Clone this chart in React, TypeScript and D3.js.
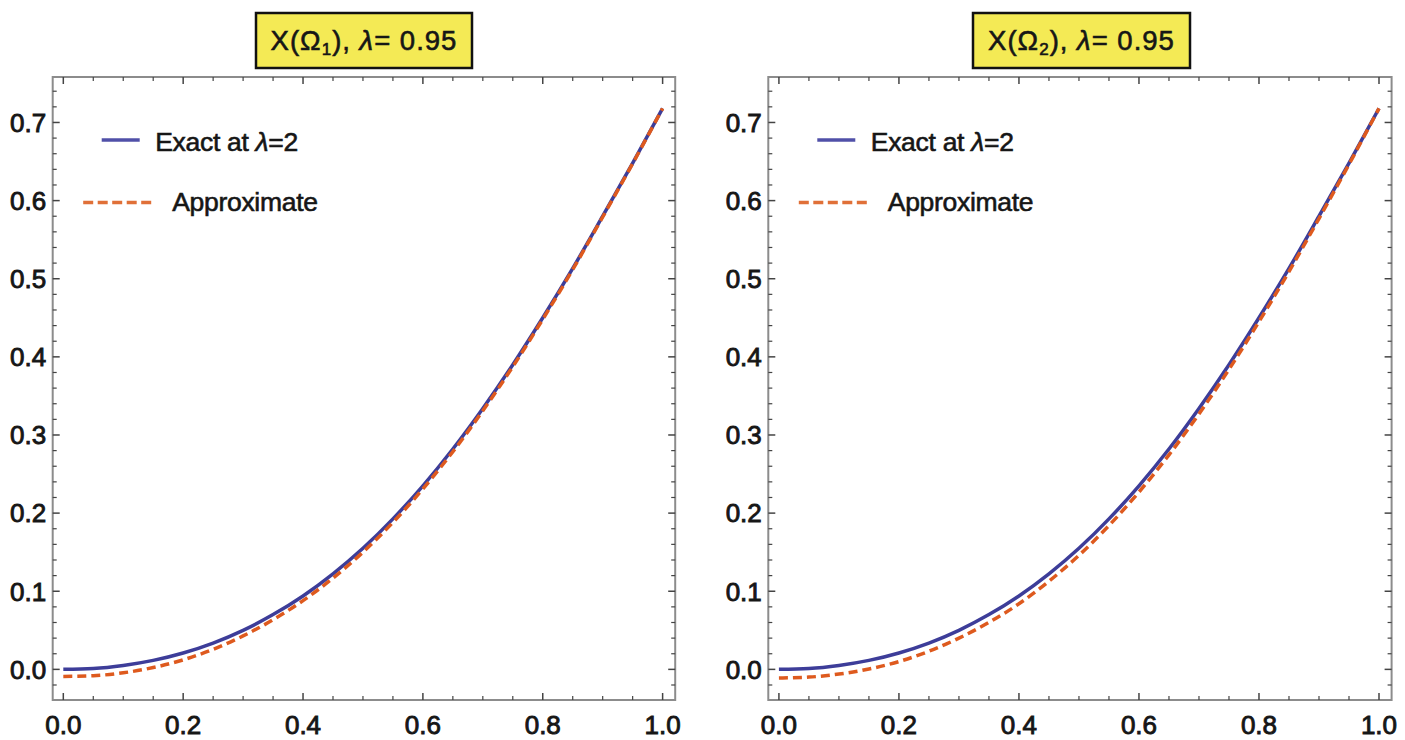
import React from 'react';
import * as d3 from 'd3';

// ---- data ----
const xValues = [0, 0.05, 0.1, 0.15, 0.2, 0.25, 0.3, 0.35, 0.4, 0.45, 0.5, 0.55, 0.6, 0.65, 0.7, 0.75, 0.8, 0.85, 0.9, 0.95, 1.0];
const exactValues = [0, 0.0011, 0.005, 0.0115, 0.021, 0.0337, 0.05, 0.0701, 0.094, 0.1223, 0.155, 0.1926, 0.235, 0.2821, 0.334, 0.3899, 0.45, 0.5132, 0.58, 0.6479, 0.718];
const approxOmega1 = [-0.009, -0.0081, -0.0044, 0.0023, 0.0122, 0.0257, 0.0428, 0.0635, 0.088, 0.1168, 0.15, 0.1881, 0.231, 0.2786, 0.331, 0.3874, 0.448, 0.5117, 0.579, 0.6474, 0.718];
const approxOmega2 = [-0.011, -0.0099, -0.006, 0.0005, 0.01, 0.0232, 0.04, 0.0601, 0.084, 0.1128, 0.146, 0.1841, 0.227, 0.2746, 0.327, 0.3839, 0.445, 0.5092, 0.577, 0.6464, 0.718];
const xTickLabels = ['0.0', '0.2', '0.4', '0.6', '0.8', '1.0'];
const yTickLabels = ['0.0', '0.1', '0.2', '0.3', '0.4', '0.5', '0.6', '0.7'];
const panelSubscripts = ['1', '2'];
const lambdaValue = '0.95';
const legendLabels = ['Exact at ', 'Approximate'];

const FONT = '"Liberation Sans", Arial, Helvetica, sans-serif';
const BLUE = '#3d3d99';
const ORANGE = '#de5a1e';
const TEXT = '#161616';

const X_DOMAIN: [number, number] = [-0.0177, 1.021];
const Y_DOMAIN: [number, number] = [-0.0392, 0.7582];
const FRAME_TOP = 77;
const FRAME_BOTTOM = 700;

type PanelProps = {
  left: number;
  right: number;
  approx: number[];
  sub: string;
  boxLeft: number;
  boxRight: number;
};

function Panel({ left, right, approx, sub, boxLeft, boxRight }: PanelProps) {
  const x = d3.scaleLinear().domain(X_DOMAIN).range([left, right]);
  const y = d3.scaleLinear().domain(Y_DOMAIN).range([FRAME_BOTTOM, FRAME_TOP]);

  const line = d3
    .line<number>()
    .x((_, i) => x(xValues[i]))
    .y((d) => y(d))
    .curve(d3.curveMonotoneX);

  const xMajor = xTickLabels.map(Number);
  const yMajor = yTickLabels.map(Number);
  const xMinor = d3.range(0, 21).map((i) => +(i * 0.05).toFixed(2)).filter((v) => !xMajor.some((m) => Math.abs(m - v) < 1e-6));
  const yMinor = d3.range(-1, 38).map((i) => +(i * 0.02).toFixed(2)).filter((v) => !yMajor.some((m) => Math.abs(m - v) < 1e-6));

  const tickColor = '#444';
  const majorLen = 7;
  const minorLen = 4;

  const boxCx = (boxLeft + boxRight) / 2;

  return (
    <g>
      {/* curves */}
      <path d={line(exactValues) || ''} fill="none" stroke={BLUE} strokeWidth={3.5} />
      <path d={line(approx) || ''} fill="none" stroke={ORANGE} strokeWidth={3.5} strokeDasharray="9,5" />

      {/* frame */}
      <rect x={left} y={FRAME_TOP} width={right - left} height={FRAME_BOTTOM - FRAME_TOP} fill="none" stroke="#8c8c8c" strokeWidth={2} />

      {/* x ticks bottom & top */}
      {xMajor.map((v) => (
        <g key={'xM' + v}>
          <line x1={x(v)} x2={x(v)} y1={FRAME_BOTTOM} y2={FRAME_BOTTOM - majorLen} stroke={tickColor} strokeWidth={1.5} />
          <line x1={x(v)} x2={x(v)} y1={FRAME_TOP} y2={FRAME_TOP + majorLen} stroke={tickColor} strokeWidth={1.5} />
        </g>
      ))}
      {xMinor.map((v) => (
        <g key={'xm' + v}>
          <line x1={x(v)} x2={x(v)} y1={FRAME_BOTTOM} y2={FRAME_BOTTOM - minorLen} stroke={tickColor} strokeWidth={1.2} />
          <line x1={x(v)} x2={x(v)} y1={FRAME_TOP} y2={FRAME_TOP + minorLen} stroke={tickColor} strokeWidth={1.2} />
        </g>
      ))}
      {/* y ticks left & right */}
      {yMajor.map((v) => (
        <g key={'yM' + v}>
          <line x1={left} x2={left + majorLen} y1={y(v)} y2={y(v)} stroke={tickColor} strokeWidth={1.5} />
          <line x1={right} x2={right - majorLen} y1={y(v)} y2={y(v)} stroke={tickColor} strokeWidth={1.5} />
        </g>
      ))}
      {yMinor.map((v) => (
        <g key={'ym' + v}>
          <line x1={left} x2={left + minorLen} y1={y(v)} y2={y(v)} stroke={tickColor} strokeWidth={1.2} />
          <line x1={right} x2={right - minorLen} y1={y(v)} y2={y(v)} stroke={tickColor} strokeWidth={1.2} />
        </g>
      ))}

      {/* tick labels */}
      {xTickLabels.map((t) => (
        <text key={'xl' + t} x={x(+t)} y={734} textAnchor="middle" fontFamily={FONT} fontSize={26} fill={TEXT} stroke={TEXT} strokeWidth={0.9}>
          {t}
        </text>
      ))}
      {yTickLabels.map((t) => (
        <text key={'yl' + t} x={left - 6.5} y={y(+t) + 9.3} textAnchor="end" fontFamily={FONT} fontSize={26} fill={TEXT} stroke={TEXT} strokeWidth={0.9}>
          {t}
        </text>
      ))}

      {/* legend */}
      <line x1={left + 49} x2={left + 87} y1={140} y2={140} stroke="#5050a8" strokeWidth={3.5} />
      <text x={left + 102.5} y={150.5} fontFamily={FONT} fontSize={26.5} fill={TEXT} stroke={TEXT} strokeWidth={0.6} letterSpacing={-0.3}>
        {legendLabels[0]}
        <tspan fontStyle="italic">λ</tspan>=2
      </text>
      <line x1={left + 30.5} x2={left + 101} y1={202.5} y2={202.5} stroke="#e07038" strokeWidth={3.5} strokeDasharray="10,4.5" />
      <text x={left + 119.5} y={210.5} fontFamily={FONT} fontSize={26.5} fill={TEXT} stroke={TEXT} strokeWidth={0.6} letterSpacing={-0.3}>
        {legendLabels[1]}
      </text>

      {/* title box */}
      <rect x={boxLeft} y={13} width={boxRight - boxLeft} height={55} fill="#f4ea55" stroke="#111" strokeWidth={2.5} />
      <text x={boxCx} y={49.5} textAnchor="middle" fontFamily={FONT} fontSize={27.5} fill={TEXT} stroke={TEXT} strokeWidth={0.6} letterSpacing={1}>
        X(Ω
        <tspan fontSize={17} dy={5}>{sub}</tspan>
        <tspan dy={-5}>), </tspan>
        <tspan fontStyle="italic">λ</tspan>
        <tspan>= {lambdaValue}</tspan>
      </text>
    </g>
  );
}

export default function App() {
  return (
    <svg width={1405} height={740} style={{ position: 'absolute', left: 0, top: 0, background: '#fff' }}>
      <rect x={0} y={0} width={1405} height={740} fill="#fff" />
      <Panel left={52.7} right={675.2} approx={approxOmega1} sub={panelSubscripts[0]} boxLeft={256} boxRight={472} />
      <Panel left={768.3} right={1391.6} approx={approxOmega2} sub={panelSubscripts[1]} boxLeft={973} boxRight={1190} />
    </svg>
  );
}
